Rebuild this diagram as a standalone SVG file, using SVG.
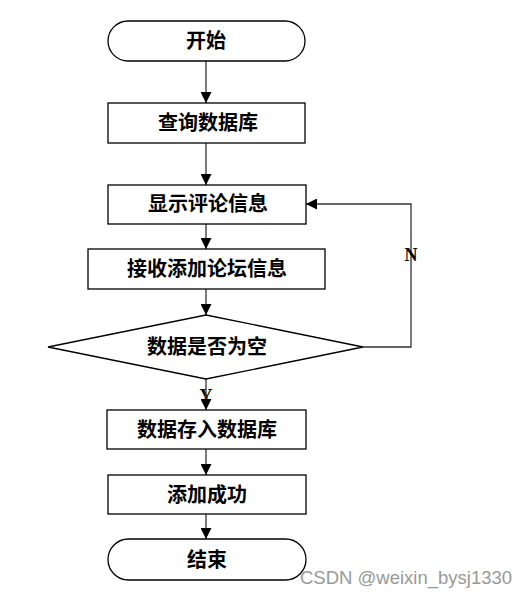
<svg xmlns="http://www.w3.org/2000/svg" width="530" height="595" viewBox="0 0 530 595">
<defs>
<marker id="ah" viewBox="0 0 10 10" refX="10" refY="5" markerWidth="11" markerHeight="11" markerUnits="userSpaceOnUse" orient="auto">
<path d="M0,0 L10,5 L0,10 z" fill="#000"/>
</marker>
<style>
.box{fill:#fff;stroke:#000;stroke-width:1.3}
.t{font-family:"Noto Sans CJK SC","Noto Sans",sans-serif;font-size:20px;font-weight:bold;text-anchor:middle;fill:#000}
.c{fill:none;stroke:#333;stroke-width:1.3}
.lbl{font-family:"Liberation Serif",serif;font-size:18px;font-weight:bold;text-anchor:middle;fill:#000}
</style>
</defs>
<rect width="530" height="595" fill="#fff"/>
<g id="connectors">
<text class="lbl" x="206" y="402">Y</text>
<line class="c" x1="206" y1="61" x2="206" y2="103" marker-end="url(#ah)"/>
<line class="c" x1="206" y1="143" x2="206" y2="185" marker-end="url(#ah)"/>
<line class="c" x1="206" y1="224" x2="206" y2="249" marker-end="url(#ah)"/>
<line class="c" x1="206" y1="289" x2="206" y2="315" stroke-width="2" marker-end="url(#ah)"/>
<polyline class="c" points="363,347 411,347 411,204 306,204" marker-end="url(#ah)"/>
<line class="c" x1="206" y1="379" x2="206" y2="410" marker-end="url(#ah)"/>
<line class="c" x1="206" y1="449" x2="206" y2="475" marker-end="url(#ah)"/>
<line class="c" x1="206" y1="514" x2="206" y2="539" marker-end="url(#ah)"/>
<text class="lbl" x="411" y="261">N</text>
</g>
<g id="start">
<rect class="box" x="108" y="21" width="197" height="40" rx="20" ry="20"/>
<text class="t" x="206" y="48">开始</text>
</g>
<g id="query">
<rect class="box" x="108" y="103" width="197" height="40"/>
<text class="t" x="208" y="130">查询数据库</text>
</g>
<g id="show">
<rect class="box" x="108" y="185" width="198" height="39"/>
<text class="t" x="208" y="211">显示评论信息</text>
</g>
<g id="receive">
<rect class="box" x="88" y="249" width="237" height="40"/>
<text class="t" x="207" y="276">接收添加论坛信息</text>
</g>
<g id="decision">
<polygon class="box" points="206,315 363,347 206,379 48,347"/>
<text class="t" x="207" y="354">数据是否为空</text>
</g>
<g id="save">
<rect class="box" x="107" y="410" width="199" height="39"/>
<text class="t" x="207" y="437">数据存入数据库</text>
</g>
<g id="success">
<rect class="box" x="108" y="475" width="198" height="39"/>
<text class="t" x="207" y="502">添加成功</text>
</g>
<g id="end">
<rect class="box" x="108" y="539" width="198" height="41" rx="20.5" ry="20.5"/>
<text class="t" x="207" y="567">结束</text>
</g>
<text x="300" y="584" font-family="Liberation Sans,Arial,sans-serif" font-size="18.5" fill="#999">CSDN @weixin_bysj1330</text>
</svg>
